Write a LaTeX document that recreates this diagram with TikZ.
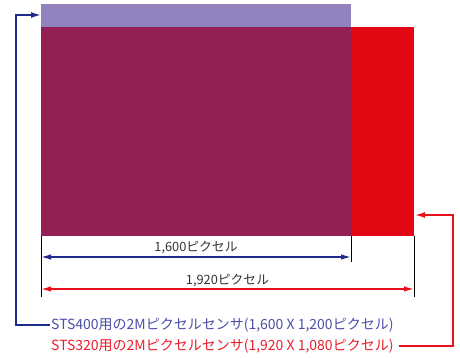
\documentclass[tikz,border=0pt]{standalone}
\usepackage{fontspec}
\usepackage{tikz}
\usetikzlibrary{arrows.meta,calc}
\newfontfamily\jpfont{Noto Sans CJK JP}
\definecolor{bandpurple}{HTML}{9181BD}
\definecolor{sensorpurple}{HTML}{931F55}
\definecolor{sensorred}{HTML}{E30613}
\definecolor{dimblue}{HTML}{1F2A8A}
\definecolor{textblue}{HTML}{4A4FA6}
\definecolor{dimred}{HTML}{E8101C}
\definecolor{textred}{HTML}{EC1C2A}
\tikzset{
  dimline/.style={line width=1.4pt,{Latex[length=10pt,width=5.5pt]}-{Latex[length=10pt,width=5.5pt]}},
  extline/.style={black,line width=0.7pt},
  callout/.style={line width=1.6pt,-{Latex[length=10pt,width=6pt]}},
  dimlabel/.style={font=\jpfont\fontsize{12.8}{14}\selectfont,text=black!80,inner sep=1pt},
  sensorlabel/.style={font=\jpfont\fontsize{14}{15}\selectfont,inner sep=1pt}
}
\begin{document}
\begin{tikzpicture}[x=1pt,y=-1pt]
\useasboundingbox (0,0) rectangle (460,358);
% sensors
\fill[sensorred] (351,27) rectangle (414,236);
\fill[sensorpurple] (41,27) rectangle (351,236);
\fill[bandpurple] (41,4) rectangle (351,27);
\coordinate (s400) at (41,15);
\coordinate (s320) at (415,215);
% extension lines
\draw[extline] (41,236) -- (41,297);
\draw[extline] (351,236) -- (351,262);
\draw[extline] (414,236) -- (414,297);
% dimensions
\coordinate (b1) at (41,257);
\coordinate (b2) at (351,257);
\coordinate (r1) at (41,289);
\coordinate (r2) at (414,289);
\draw[dimline,dimblue] (b1) -- (b2);
\draw[dimline,dimred] (r1) -- (r2);
\node[dimlabel] (w400) at ($(b1)!0.5!(b2)+(0,-9)$) {1,600ピクセル};
\node[dimlabel] (w320) at ($(r1)!0.5!(r2)+(0,-8)$) {1,920ピクセル};
% labels
\node[sensorlabel,text=textblue,anchor=west] (t400) at (50,325) {STS400用の2Mピクセルセンサ(1,600 X 1,200ピクセル)};
\node[sensorlabel,text=textred,anchor=west] (t320) at (50,346) {STS320用の2Mピクセルセンサ(1,920 X 1,080ピクセル)};
\draw[callout,dimblue] (t400.west) -- (16,325) -- (16,15) -- (s400);
\draw[callout,dimred] ($(t320.east)+(4,0)$) -- (453,346) -- (453,215) -- (s320);
\end{tikzpicture}
\end{document}
